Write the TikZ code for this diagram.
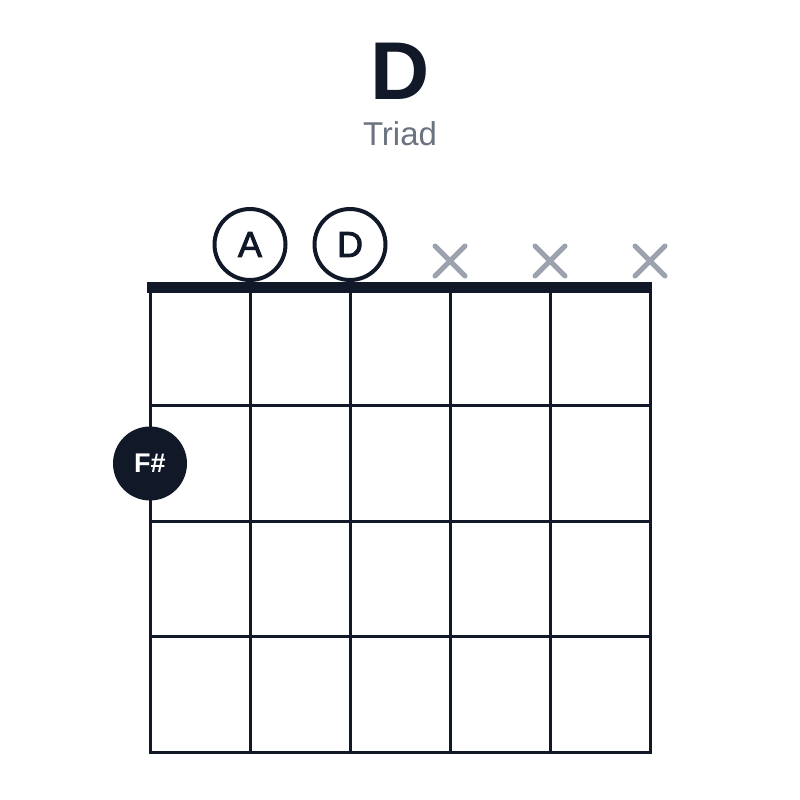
\documentclass[tikz,border=0pt]{standalone}
\usepackage{fontspec}
\setmainfont{Liberation Sans}
\newfontfamily\notefont[FakeBold=2.5]{Liberation Sans}
\definecolor{ink}{HTML}{111827}
\definecolor{mutegray}{HTML}{9CA3AF}
\definecolor{subgray}{HTML}{6B7280}

\begin{document}
\begin{tikzpicture}[x=1pt, y=-1pt,
  gridline/.style={ink, line width=3pt, line cap=rect},
  opennote/.style={circle, draw=ink, line width=4pt, fill=white, minimum size=71pt, inner sep=0pt, text=ink, font=\notefont\fontsize{36}{36}\selectfont},
  fretnote/.style={circle, fill=ink, minimum size=74pt, inner sep=0pt, text=white, font=\bfseries\fontsize{27}{27}\selectfont},
  mutemark/.style={mutegray, line width=5pt, line cap=round}]
\useasboundingbox (0,0) rectangle (800,800);

\node [anchor=base, text=ink, font=\bfseries\fontsize{82}{82}\selectfont] (chord) at (400,99) {D};
\node [anchor=base, text=subgray, font=\fontsize{33}{33}\selectfont] (kind) at (400,145) {Triad};

% strings and frets
\foreach \s in {0,...,5}
  \draw [gridline] (150+100*\s,290) -- (150+100*\s,752);
\foreach \f in {1,...,4}
  \draw [gridline] (150,290+115.5*\f) -- (650,290+115.5*\f);

\draw [ink, line width=11pt] (147,287.5) -- (652,287.5);

\node [opennote] (openA) at (250,244.5) {A};
\node [opennote] (openD) at (350,244.5) {D};

\foreach \s in {4,5,6} {
  \coordinate (mute\s) at (150+100*\s-100,261);
  \draw [mutemark] (mute\s) ++(-15,-15) -- ++(30,30);
  \draw [mutemark] (mute\s) ++(15,-15) -- ++(-30,30);
}

\node [fretnote] (fsharp) at (150,463.5) {F\#};
\end{tikzpicture}
\end{document}
